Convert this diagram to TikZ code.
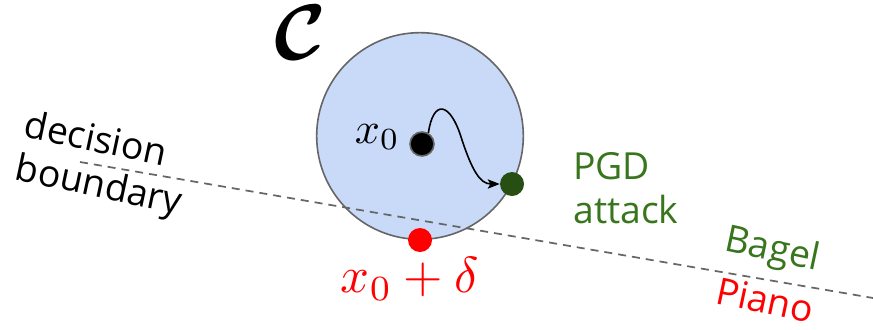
\documentclass[tikz,border=0pt]{standalone}
\usepackage{fontspec}
\usepackage{amsmath}
\usepackage{bm}
\usepackage{graphicx}
\setmainfont{Open Sans}
\usetikzlibrary{arrows.meta}
\definecolor{ballblue}{HTML}{C9DAF8}
\definecolor{edgegray}{HTML}{666666}
\definecolor{txtgreen}{HTML}{38761D}
\definecolor{dotgreen}{HTML}{274E13}
\definecolor{myred}{HTML}{FF0000}
\tikzset{
  dot/.style={circle, inner sep=0pt, minimum size=18pt},
  lbl/.style={inner sep=0pt, font=\fontsize{28}{33}\selectfont},
  mathlbl/.style={inner sep=0pt, font=\fontsize{10}{12}\selectfont},
}
\begin{document}
\begin{tikzpicture}[x=0.75pt,y=-0.75pt]
\useasboundingbox (0,0) rectangle (873,329);
% ball
\node[circle, fill=ballblue, draw=edgegray, line width=1.2pt, minimum size=155pt, inner sep=0pt] (ball) at (420,136) {};
% decision boundary
\coordinate (b1) at (80,162);
\coordinate (b2) at (873,298);
\draw[edgegray, line width=1.3pt, dash pattern=on 6pt off 4.5pt] (b1) -- (b2);
% dots
\node[dot, fill=black, draw=edgegray, line width=1.2pt] (x0) at (422,144) {};
\node[dot, fill=dotgreen] (pgd) at (512,184) {};
\node[dot, fill=myred] (adv) at (420,240) {};
% path
\draw[line width=1.2pt, -{Stealth[length=9pt,width=7pt,inset=2pt]}] (x0.60) .. controls (433,100) and (450,100) .. (462,140) .. controls (472,170) and (480,184) .. (pgd.west);
% labels
\node[mathlbl] (C) at (300,33) {\scalebox{5.9}{$\bm{\mathcal{C}}$}};
\node[mathlbl, anchor=east] (x0l) at (400,137) {\scalebox{3.3}{$x_0$}};
\node[mathlbl, text=myred] (advl) at (410,279) {\scalebox{3.8}{$x_0+\delta$}};
\node[lbl, align=left, rotate=-12] (db) at (103,166) {decision\\boundary};
\node[lbl, align=left, text=txtgreen, anchor=north west] (pgdl) at (573,152) {PGD\\attack};
\node[lbl, text=txtgreen, rotate=-12] (bagel) at (772,251) {Bagel};
\node[lbl, text=myred, rotate=-12] (piano) at (765,300) {Piano};
\end{tikzpicture}
\end{document}
